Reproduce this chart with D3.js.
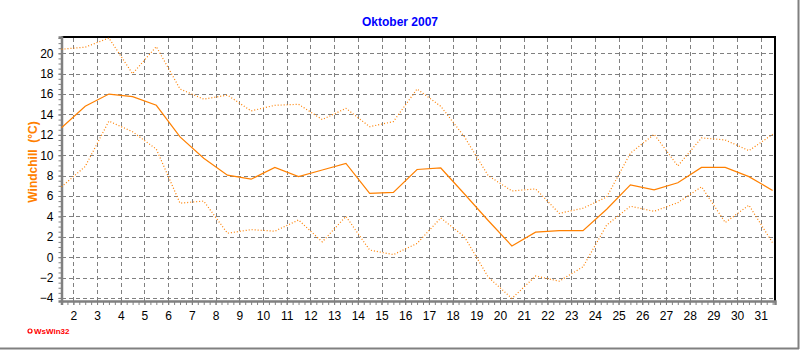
<!DOCTYPE html>
<html>
<head>
<meta charset="utf-8">
<script src="https://cdn.jsdelivr.net/npm/d3@7"></script>
<style>
  body { margin: 0; background: #fff; }
  text { font-family: "Liberation Sans", Arial, sans-serif; }
</style>
</head>
<body>
<div id="chart"></div>
<script>
// days of the month (values are plotted at noon, i.e. day + 0.5)
var days = [1, 2, 3, 4, 5, 6, 7, 8, 9, 10, 11, 12, 13, 14, 15, 16, 17, 18, 19, 20,
            21, 22, 23, 24, 25, 26, 27, 28, 29, 30, 31];
// windchill max / mean / min in °C
var chillMax = [20.4, 20.6, 21.5, 18.0, 20.65, 16.5, 15.5, 15.9, 14.35, 14.9, 15.0, 13.5, 14.6, 12.8, 13.3,
                16.5, 14.8, 11.8, 8.0, 6.5, 6.7, 4.3, 4.8, 5.9, 10.2, 12.05, 8.95, 11.7, 11.5, 10.45, 12.05];
var chillMean = [12.7, 14.8, 16.0, 15.75, 14.9, 11.8, 9.7, 8.05, 7.65, 8.8, 7.9, 8.55, 9.2, 6.25, 6.35,
                 8.6, 8.75, 6.2, 3.6, 1.1, 2.45, 2.6, 2.6, 4.7, 7.1, 6.6, 7.3, 8.8, 8.8, 7.9, 6.55];
var chillMin = [6.9, 8.9, 13.35, 12.3, 10.6, 5.3, 5.5, 2.35, 2.7, 2.55, 3.65, 1.5, 4.0, 0.7, 0.25,
                1.35, 3.85, 2.0, -1.95, -4.05, -1.85, -2.35, -0.95, 3.15, 5.0, 4.5, 5.35, 6.9, 3.4, 5.1, 1.4];
var yTicks = [-4, -2, 0, 2, 4, 6, 8, 10, 12, 14, 16, 18, 20];
var xTicks = [2, 3, 4, 5, 6, 7, 8, 9, 10, 11, 12, 13, 14, 15, 16, 17, 18, 19, 20,
              21, 22, 23, 24, 25, 26, 27, 28, 29, 30, 31];

var W = 800, H = 350;
var plotL = 61.5, plotR = 775, plotT = 37, plotB = 301;
var orange = "#ff8000";

var svg = d3.select("#chart")
  .append("svg")
    .attr("width", W)
    .attr("height", H);

// outer border on right and bottom
svg.append("line").attr("x1", 798.5).attr("x2", 798.5).attr("y1", 0).attr("y2", 349)
  .attr("stroke", "#808080").attr("stroke-width", 2);
svg.append("line").attr("x1", 0).attr("x2", 799).attr("y1", 348.5).attr("y2", 348.5)
  .attr("stroke", "#808080").attr("stroke-width", 2);

var x = d3.scaleLinear().domain([1.5, 31.6]).range([plotL, plotR]);
var y = d3.scaleLinear().domain([-4.3, 21.6]).range([plotB, plotT]);

// grid lines
svg.append("g")
  .attr("transform", "translate(0," + plotB + ")")
  .call(d3.axisBottom(x).tickValues(xTicks).tickSize(-(plotB - plotT)).tickFormat(""))
  .call(g => g.select(".domain").remove())
  .call(g => g.selectAll("line").attr("stroke", "#808080").attr("stroke-dasharray", "4,3").attr("shape-rendering", "crispEdges"));
svg.append("g")
  .attr("transform", "translate(" + plotL + ",0)")
  .call(d3.axisLeft(y).tickValues(yTicks).tickSize(-(plotR - plotL)).tickFormat(""))
  .call(g => g.select(".domain").remove())
  .call(g => g.selectAll("line").attr("stroke", "#808080").attr("stroke-dasharray", "4,3").attr("shape-rendering", "crispEdges"));

// top and right frame
svg.append("line").attr("x1", plotL).attr("x2", plotR + 1).attr("y1", plotT).attr("y2", plotT)
  .attr("stroke", "#000").attr("stroke-width", 2);
svg.append("line").attr("x1", plotR).attr("x2", plotR).attr("y1", plotT).attr("y2", plotB)
  .attr("stroke", "#000").attr("stroke-width", 2);

// minor ticks
var yMinor = d3.range(-8, 44).map(d => d / 2);
svg.append("g")
  .attr("transform", "translate(" + plotL + ",0)")
  .call(d3.axisLeft(y).tickValues(yMinor).tickSize(3).tickFormat(""))
  .call(g => g.select(".domain").remove())
  .call(g => g.selectAll("line").attr("stroke", "#808080"));
var xMinor = d3.range(6, 127).map(d => d / 4);
svg.append("g")
  .attr("transform", "translate(0," + plotB + ")")
  .call(d3.axisBottom(x).tickValues(xMinor).tickSize(4).tickFormat(""))
  .call(g => g.select(".domain").remove())
  .call(g => g.selectAll("line").attr("stroke", "#808080"));

// labelled axes
svg.append("g")
  .attr("transform", "translate(" + plotL + ",0)")
  .call(d3.axisLeft(y).tickValues(yTicks).tickSize(3).tickPadding(5))
  .call(g => g.select(".domain").attr("stroke", "#808080").attr("stroke-width", 2.5))
  .call(g => g.selectAll("line").attr("stroke", "#808080"))
  .call(g => g.selectAll("text").attr("font-size", "12px").attr("fill", "#000")
    .attr("font-family", "'Liberation Sans', Arial, sans-serif"));
svg.append("g")
  .attr("transform", "translate(0," + plotB + ")")
  .call(d3.axisBottom(x).tickValues(xTicks).tickSize(4).tickPadding(6))
  .call(g => g.select(".domain").attr("stroke", "#808080").attr("stroke-width", 2.5))
  .call(g => g.selectAll("line").attr("stroke", "#808080"))
  .call(g => g.selectAll("text").attr("font-size", "12px").attr("fill", "#000")
    .attr("font-family", "'Liberation Sans', Arial, sans-serif"));

// series
function lineFor(values) {
  return d3.line()
    .x((d, i) => x(days[i] + 0.5))
    .y(d => y(d))(values);
}
svg.append("path").attr("d", lineFor(chillMax))
  .attr("fill", "none").attr("stroke", orange).attr("stroke-width", 1.2).attr("stroke-dasharray", "1,2");
svg.append("path").attr("d", lineFor(chillMin))
  .attr("fill", "none").attr("stroke", orange).attr("stroke-width", 1.2).attr("stroke-dasharray", "1,2");
svg.append("path").attr("d", lineFor(chillMean))
  .attr("fill", "none").attr("stroke", orange).attr("stroke-width", 1.2);

// title
svg.append("text")
  .attr("x", 400).attr("y", 26)
  .attr("text-anchor", "middle")
  .attr("font-size", "12px").attr("font-weight", "bold")
  .attr("fill", "#0000ff")
  .text("Oktober 2007");

// y axis label
svg.append("text")
  .attr("transform", "translate(37,162) rotate(-90)")
  .attr("text-anchor", "middle")
  .attr("font-size", "12px").attr("font-weight", "bold")
  .attr("fill", orange)
  .attr("xml:space", "preserve")
  .text("Windchill  (°C)");

// software mark
svg.append("circle").attr("cx", 30).attr("cy", 331).attr("r", 2)
  .attr("fill", "none").attr("stroke", "#ff0000").attr("stroke-width", 1.2);
svg.append("text")
  .attr("x", 34).attr("y", 334)
  .attr("font-size", "8px").attr("font-weight", "bold")
  .attr("fill", "#ff0000")
  .text("WsWin32");
</script>
</body>
</html>
